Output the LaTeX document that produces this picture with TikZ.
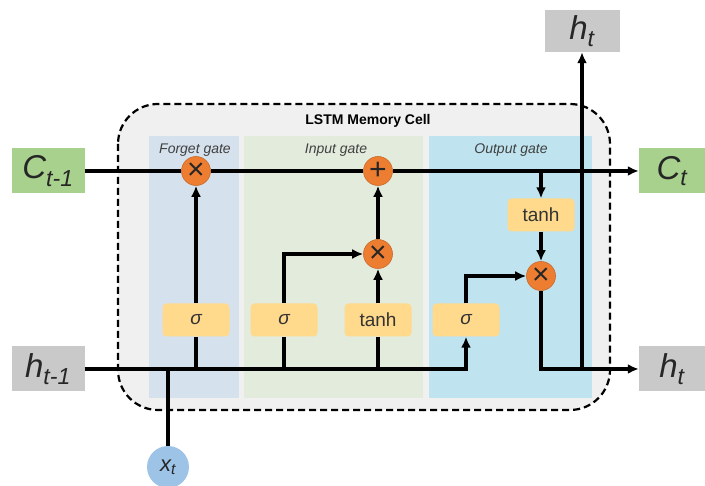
\documentclass[tikz,border=0pt]{standalone}
\usepackage{fontspec}
\setmainfont{Liberation Sans}
\usetikzlibrary{arrows.meta}

\definecolor{cellgray}{HTML}{F0F0F0}
\definecolor{forgetbg}{HTML}{D5E1EC}
\definecolor{inputbg}{HTML}{E3EBDC}
\definecolor{outputbg}{HTML}{BFE3EF}
\definecolor{gateyellow}{HTML}{FFD98C}
\definecolor{oporange}{HTML}{ED7D31}
\definecolor{cellgreen}{HTML}{A9D18E}
\definecolor{hidgray}{HTML}{C9C9C9}
\definecolor{inblue}{HTML}{9DC3E6}

\begin{document}
\begin{tikzpicture}[x=1pt,y=-1pt,
  wire/.style={line width=3.2pt},
  flow/.style={wire,-{Latex[length=11pt,width=10pt]}},
  gatebox/.style={fill=gateyellow,rounded corners=4pt,minimum width=67pt,minimum height=33pt,
    font=\fontsize{19}{19}\selectfont,text=black!80},
  op/.style={circle,fill=oporange,draw=oporange!85!black,line width=0.6pt,minimum size=29pt,
    inner sep=0pt,font=\fontsize{30}{30}\selectfont,text=black!85},
  state/.style={minimum width=73pt,minimum height=45pt,inner sep=0pt,
    font=\fontsize{33}{33}\selectfont\itshape,text=black!85},
  gatename/.style={font=\fontsize{14}{14}\selectfont\itshape,text=black!75}]
 \useasboundingbox (0,0) rectangle (705,486);

 % memory cell and gate panels
 \draw[fill=cellgray,dashed,line width=2.2pt,dash pattern=on 7pt off 4pt,rounded corners=40pt]
   (118,104) rectangle (610,410);
 \fill[forgetbg] (149,136) rectangle (239,398);
 \fill[inputbg] (244,136) rectangle (423,398);
 \fill[outputbg] (429,136) rectangle (592,398);
 \node (title) at (368,121) {\fontsize{14}{14}\selectfont\bfseries LSTM Memory Cell};
 \node[gatename] (fname) at (195,150) {Forget gate};
 \node[gatename] (iname) at (336,150) {Input gate};
 \node[gatename] (oname) at (511,150) {Output gate};

 % states
 \node[state,fill=cellgreen] (cprev) at (48,171) {C\textsubscript{t-1}};
 \node[state,fill=cellgreen,minimum width=66pt] (cnext) at (672,171) {C\textsubscript{t}};
 \node[state,fill=hidgray] (hprev) at (48,369) {h\textsubscript{t-1}};
 \node[state,fill=hidgray,minimum width=66pt] (hnext) at (672,369) {h\textsubscript{t}};
 \node[state,fill=hidgray,minimum width=75pt,minimum height=42pt] (htop) at (582,31) {h\textsubscript{t}};
 \node[circle,fill=inblue,minimum size=42pt,inner sep=0pt,font=\fontsize{22}{22}\selectfont\itshape,text=black!85]
   (xt) at (168,467) {x\textsubscript{t}};

 % gates
 \node[gatebox] (fsig) at (196,320) {\itshape σ};
 \node[gatebox] (isig) at (284,320) {\itshape σ};
 \node[gatebox] (itanh) at (378,320) {tanh};
 \node[gatebox] (osig) at (466,320) {\itshape σ};
 \node[gatebox] (otanh) at (541,215) {tanh};

 % pointwise operations
 \node[op] (fmul) at (196,171) {×};
 \node[op] (add) at (378,171) {+};
 \node[op] (imul) at (378,254) {×};
 \node[op] (omul) at (541,276) {×};

 % cell state line
 \draw[wire] (cprev) -- (fmul);
 \draw[wire] (fmul) -- (add);
 \draw[flow] (add) -- (cnext);
 \draw[flow] (otanh.north |- cprev) -- (otanh.north);

 % hidden state and input
 \draw[flow] (hprev.east) -| (osig.south);
 \draw[wire] (xt.north) -- (xt |- hprev);
 \draw[wire] (fsig.south |- hprev) -- (fsig.south);
 \draw[wire] (isig.south |- hprev) -- (isig.south);
 \draw[wire] (itanh.south |- hprev) -- (itanh.south);

 % gate outputs
 \draw[flow] (fsig.north) -- (fmul.south);
 \draw[flow] (isig.north) |- (imul.west);
 \draw[flow] (itanh.north) -- (imul.south);
 \draw[flow] (imul.north) -- (add.south);
 \draw[flow] (osig.north) |- (omul.west);
 \draw[flow] (otanh.south) -- (omul.north);
 \draw[flow] (omul.south) |- (hnext.west);
 \draw[flow] (htop.south |- hnext) -- (htop.south);
\end{tikzpicture}
\end{document}
